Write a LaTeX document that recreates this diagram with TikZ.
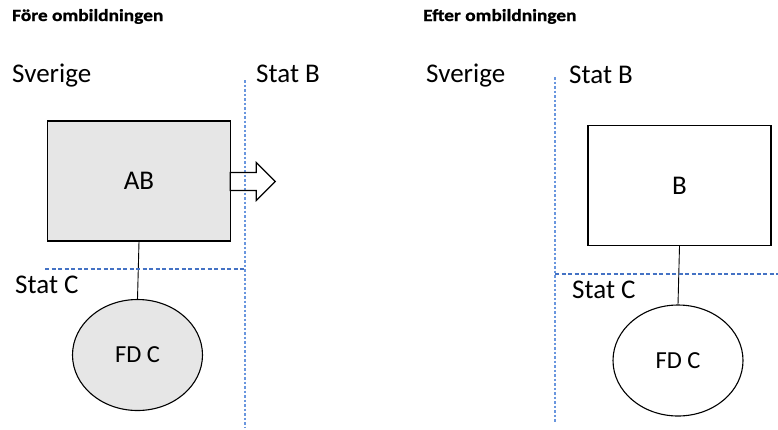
\documentclass[tikz,border=0pt]{standalone}
\usepackage{fontspec}
\setmainfont{Carlito}
\newfontfamily\rubrikfont[FakeStretch=1.14,FakeBold=1]{Carlito Bold}
\usetikzlibrary{shapes.geometric}
\definecolor{grans}{RGB}{105,150,222}
\definecolor{gransmork}{RGB}{68,114,196}
\definecolor{grabolag}{RGB}{230,230,230}

\begin{document}
\begin{tikzpicture}[x=1pt,y=-1pt,
    rubrik/.style={anchor=base west,inner sep=0pt,font=\rubrikfont\fontsize{17}{19}\selectfont},
    land/.style={anchor=base west,inner sep=0pt,font=\fontsize{27}{30}\selectfont},
    bolag/.style={draw,line width=1.4pt,minimum width=183pt,minimum height=120pt,font=\fontsize{27}{30}\selectfont},
    filial/.style={draw,ellipse,line width=1.1pt,minimum width=130pt,minimum height=111pt,font=\fontsize{24.5}{27}\selectfont},
    vgrans/.style={grans,line width=1.2pt,dash pattern=on 2.5pt off 2pt},
    hgrans/.style={gransmork,line width=1.2pt,dash pattern=on 4pt off 2.5pt}]
  \useasboundingbox (0,0) rectangle (778,429);

  \node[rubrik] (fore) at (12,21) {Före ombildningen};
  \node[land] (sv1) at (12,82) {Sverige};
  \node[land] (sb1) at (256,82) {Stat B};
  \node[land] (sc1) at (15,293) {Stat C};
  \coordinate (v1a) at (245,80);
  \coordinate (v1b) at (245,427);
  \coordinate (h1a) at (45,269);
  \coordinate (h1b) at (245,269);
  \node[bolag,fill=grabolag] (ab) at (139,181) {AB};
  \node[filial,fill=grabolag] (fd1) at (137.5,355) {FD C};
  \draw[line width=0.9pt] (ab.south) -- (fd1.north);
  \draw[vgrans] (v1a) -- (v1b);
  \draw[hgrans] (h1a) -- (h1b);
  \draw[line width=1.2pt] (ab.east)
    ++(-1,-8.5) -- ++(26,0) -- ++(0,-10) -- ++(19,19)
    -- ++(-19,19) -- ++(0,-10) -- ++(-26,0) -- cycle;

  \node[rubrik] (efter) at (423,21) {Efter ombildningen};
  \node[land] (sv2) at (426,82) {Sverige};
  \node[land] (sb2) at (569,83) {Stat B};
  \node[land] (sc2) at (572,298) {Stat C};
  \coordinate (v2a) at (555,77);
  \coordinate (v2b) at (555,423);
  \coordinate (h2a) at (555,274);
  \coordinate (h2b) at (778,274);
  \node[bolag] (b) at (679.5,185.5) {B};
  \node[filial] (fd2) at (678,360.5) {FD C};
  \draw[line width=0.9pt] (b.south) -- (fd2.north);
  \draw[vgrans] (v2a) -- (v2b);
  \draw[hgrans] (h2a) -- (h2b);
\end{tikzpicture}
\end{document}
